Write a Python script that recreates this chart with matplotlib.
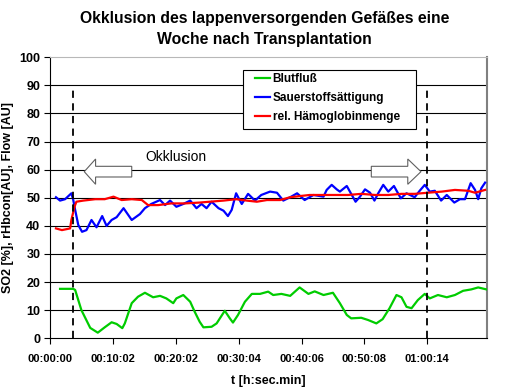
import matplotlib
matplotlib.use("Agg")
import matplotlib.pyplot as plt
from matplotlib.patches import Rectangle

plt.rcParams['font.family'] = ['Liberation Sans', 'DejaVu Sans']

# time in minutes
t_flow = [1.6, 3.7, 4.0, 5.0, 6.4, 7.6, 8.7, 9.8, 10.6, 11.5, 11.9, 13.0, 14.0, 15.1, 16.4,
          17.5, 18.5, 19.6, 20.1, 21.2, 22.3, 23.0, 23.8, 24.4, 25.7, 26.5, 27.8, 28.6, 29.1, 29.9,
          31.0, 32.1, 33.4, 34.7, 35.5, 36.8, 38.2, 39.7, 41.1, 42.1, 43.5, 45.0, 46.1, 47.2, 47.9,
          49.5, 50.6, 51.9, 52.9, 54.0, 55.1, 55.9, 56.7, 57.5, 58.5, 59.6, 60.4, 61.7, 63.1, 64.4,
          65.7, 67.0, 68.1, 69.4]
flow = [17.6, 17.6, 17.2, 10.0, 3.7, 2.0, 3.9, 5.7, 5.1, 3.6, 5.3, 12.5, 14.8, 16.2, 14.6,
        15.1, 14.2, 12.5, 14.2, 15.4, 13.0, 9.5, 5.9, 3.9, 4.1, 5.3, 9.8, 7.1, 5.6, 8.3,
        13.0, 15.8, 15.8, 16.6, 15.4, 15.8, 15.1, 18.1, 15.8, 16.7, 15.4, 16.2, 12.5, 8.3, 7.1,
        7.3, 6.5, 5.3, 6.8, 10.7, 15.4, 14.6, 11.2, 10.7, 13.6, 15.8, 14.2, 15.4, 14.6, 15.4,
        16.9, 17.4, 18.1, 17.4]

t_so2 = [0.95, 1.6, 2.4, 3.4, 3.7, 4.0, 4.5, 5.1, 5.8, 6.6, 7.4, 8.3, 9.0, 9.8, 10.6,
         11.7, 13.0, 14.3, 15.1, 16.1, 17.5, 18.3, 19.1, 20.1, 21.2, 22.3, 23.3, 24.1, 24.9, 25.7,
         26.8, 27.6, 28.3, 28.9, 29.6, 30.5, 31.5, 32.6, 33.6, 35.0, 36.1, 37.1, 38.2, 39.3, 40.5,
         41.9, 43.5, 44.0, 44.8, 45.6, 46.1, 47.2, 48.0, 48.6, 49.3, 50.1, 50.9, 51.6, 52.2, 53.0,
         53.8, 54.7, 55.8, 56.7, 58.0, 58.8, 59.6, 60.4, 61.2, 62.2, 63.1, 64.3, 65.2, 66.0, 66.9,
         67.6, 68.1, 68.6, 69.2]
so2 = [50.2, 49.0, 49.5, 51.6, 49.2, 45.7, 40.3, 37.9, 38.5, 42.1, 39.5, 43.5, 40.0, 42.1, 43.1,
       46.3, 42.1, 44.2, 46.3, 47.8, 49.2, 47.4, 49.0, 46.8, 47.8, 49.0, 46.3, 47.8, 46.3, 48.6,
       46.3, 45.4, 43.5, 45.7, 51.6, 47.8, 51.4, 49.0, 51.0, 52.2, 51.8, 49.0, 50.2, 51.6, 49.2,
       51.0, 50.4, 52.8, 54.6, 53.0, 52.2, 54.2, 51.0, 48.6, 50.4, 53.0, 51.8, 49.0, 51.6, 54.6,
       52.2, 54.2, 49.8, 51.6, 50.2, 52.5, 54.6, 52.2, 52.5, 49.0, 51.0, 48.3, 49.5, 49.5, 55.2,
       52.8, 49.5, 53.4, 55.4]

t_hb = [0.95, 1.9, 3.2, 3.4, 3.9, 4.2, 5.3, 7.2, 8.7, 10.1, 11.4, 13.0, 14.6, 15.6, 17.2,
        19.3, 21.5, 23.8, 25.4, 27.6, 29.6, 31.3, 32.9, 34.5, 36.6, 38.2, 39.7, 41.3, 43.5, 45.3,
        47.4, 49.5, 51.7, 53.8, 55.9, 58.0, 60.1, 62.3, 64.4, 66.5, 67.6, 69.2]
hb = [39.1, 38.5, 39.1, 42.1, 46.8, 48.6, 49.0, 49.5, 49.5, 50.4, 49.2, 49.5, 49.2, 47.4, 47.4,
      48.0, 48.0, 48.3, 48.6, 49.0, 49.5, 49.0, 48.6, 49.2, 49.2, 50.2, 50.6, 51.0, 51.0, 51.0,
      51.0, 51.4, 51.0, 51.0, 51.4, 51.4, 51.8, 52.2, 52.8, 52.5, 51.8, 52.8]

tick_pos = [0, 10, 20, 30, 40, 50, 60]
tick_labels = ['00:00:00', '00:10:02', '00:20:02', '00:30:04', '00:40:06', '00:50:08', '01:00:14']
occlusion_times = [3.66, 60.0]

fig = plt.figure(figsize=(5.29, 3.91), dpi=100)
ax = fig.add_axes([0.0945, 0.1348, 0.8261, 0.7187])

ax.plot(t_flow, flow, color='#00cc00', lw=1.6, label='Blutfluß', zorder=3)
ax.plot(t_so2, so2, color='#0000ff', lw=1.6, label='Sauerstoffsättigung', zorder=3)
ax.plot(t_hb, hb, color='#ff0000', lw=1.6, label='rel. Hämoglobinmenge', zorder=3)

for t in occlusion_times:
    ax.plot([t, t], [0, 89.5], color='black', lw=1.3, ls=(0, (4, 3)), zorder=3)

# arrows
ax.arrow(13.0, 59.3, -7.55, 0, width=3.8, head_width=9, head_length=1.8,
         length_includes_head=True, fc='white', ec='#606060', lw=0.8, zorder=4)
ax.arrow(51.1, 59.3, 7.9, 0, width=3.8, head_width=9, head_length=2.1,
         length_includes_head=True, fc='white', ec='#606060', lw=0.8, zorder=4)
ax.text(20.0, 64.6, 'Okklusion', fontsize=10, ha='center', va='center', zorder=4)

ax.set_xlim(0, 69.5)
ax.set_ylim(0, 100)
ax.set_yticks(range(0, 101, 10))
ax.set_xticks(tick_pos)
ax.set_xticklabels(tick_labels)
ax.tick_params(axis='both', direction='out', length=4, width=0.8, colors='black')
ax.tick_params(axis='x', labelsize=8, pad=7)
ax.tick_params(axis='y', labelsize=9, pad=3)
for lab in ax.get_xticklabels() + ax.get_yticklabels():
    lab.set_fontweight('bold')

for y in range(10, 100, 10):
    ax.axhline(y, color='black', lw=0.8, zorder=1)

ax.spines['left'].set_color('black')
ax.spines['bottom'].set_color('black')
ax.spines['top'].set_color('#b8b8b8')
ax.spines['right'].set_color('#808080')
ax.spines['right'].set_linewidth(1.5)

ax.set_xlabel('t [h:sec.min]', fontsize=9, fontweight='bold', labelpad=8)
ax.set_ylabel('SO2 [%], rHbcon[AU], Flow [AU]', fontsize=9, fontweight='bold', labelpad=4)
fig.text(0.5, 0.952, 'Okklusion des lappenversorgenden Gefäßes eine', fontsize=11.3,
         fontweight='bold', ha='center', va='center')
fig.text(0.5, 0.898, 'Woche nach Transplantation', fontsize=11.3,
         fontweight='bold', ha='center', va='center')

# legend box
ax.add_patch(Rectangle((0.441, 0.744), 0.3965, 0.211, transform=ax.transAxes,
                       fc='white', ec='black', lw=0.8, zorder=5))
leg = ax.legend(loc='upper left', bbox_to_anchor=(0.47, 0.945), frameon=False,
                borderpad=0, borderaxespad=0, handlelength=1.25, handletextpad=0.2,
                labelspacing=0.62, prop={'size': 8.5, 'weight': 'bold'})
leg.set_zorder(6)

fig.savefig('out.png', dpi=100)
